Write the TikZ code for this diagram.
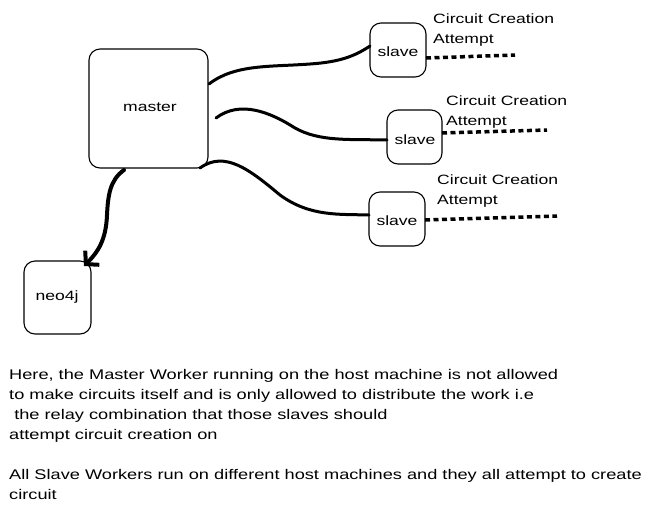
\documentclass[tikz,border=0pt]{standalone}
\usepackage{fontspec}
\setmainfont{Liberation Sans}[FakeStretch=1.3]
\usetikzlibrary{arrows.meta}
\begin{document}
\begin{tikzpicture}[x=1pt,y=-1pt,
  box/.style={draw,line width=1.1pt,rounded corners=11pt},
  lbl/.style={font=\fontsize{13.5}{15}\selectfont,anchor=center},
  wire/.style={line width=3pt,line cap=round},
  dots/.style={line width=3.5pt,dash pattern=on 5pt off 3.5pt},
  note/.style={font=\fontsize{14}{20}\selectfont,anchor=north west,align=left,inner sep=0pt},
  attlbl/.style={font=\fontsize{13.5}{20}\selectfont,anchor=north west,align=left,inner sep=0pt}]
\useasboundingbox (0,0) rectangle (667,515);
% boxes
\draw[box] (89,49) rectangle (208,168);
\node[lbl] (master) at (150,107) {master};
\draw[box] (370,23) rectangle (426,77);
\node[lbl] (s1) at (398,52) {slave};
\draw[box] (387,110) rectangle (442,164);
\node[lbl] (s2) at (415,140) {slave};
\draw[box] (369,192) rectangle (425,246);
\node[lbl] (s3) at (397,221) {slave};
\draw[box] (24,261) rectangle (91,334);
\node[lbl] (neo) at (57,297) {neo4j};
% named anchor coordinates
\coordinate (m1) at (209,84);
\coordinate (m2) at (216,118);
\coordinate (m3) at (200,168);
\coordinate (m4) at (124,170);
\coordinate (s1w) at (370,46);
\coordinate (s2w) at (387,140);
\coordinate (s3w) at (369,215);
\coordinate (neoN) at (84,266);
\coordinate (s1e) at (426,58);
\coordinate (s2e) at (442,133);
\coordinate (s3e) at (425,220);
\coordinate (d1) at (515,55);
\coordinate (d2) at (547,130);
\coordinate (d3) at (557,216);
% connectors
\draw[wire] (m1) .. controls (235,64) and (270,67) .. (310,64) .. controls (340,62) and (355,56) .. (s1w);
\draw[wire] (m2) .. controls (240,100) and (270,112) .. (295,128) .. controls (320,142) and (350,139) .. (s2w);
\draw[wire] (m3) .. controls (225,150) and (250,170) .. (280,195) .. controls (310,217) and (340,214) .. (s3w);
\draw[line width=4pt,line cap=round,-{Straight Barb[length=9pt,width=20pt,line width=4pt]}] (m4) .. controls (110,180) and (108,195) .. (107,215) .. controls (106,240) and (98,252) .. (neoN);
% dotted lines
\draw[dots] (s1e) -- (d1);
\draw[dots] (s2e) -- (d2);
\draw[dots] (s3e) -- (d3);
% captions
\node[attlbl] (c1) at (433,14) {Circuit Creation\\Attempt};
\node[attlbl] (c2) at (446,96) {Circuit Creation\\Attempt};
\node[attlbl] (c3) at (437,175) {Circuit Creation\\Attempt};
% notes
\node[note] (n1) at (9,369) {Here, the Master Worker running on the host machine is not allowed\\to make circuits itself and is only allowed to distribute the work i.e\\\ the relay combination that those slaves should\\attempt circuit creation on\\[20pt]All Slave Workers run on different host machines and they all attempt to create\\circuit};
\end{tikzpicture}
\end{document}
